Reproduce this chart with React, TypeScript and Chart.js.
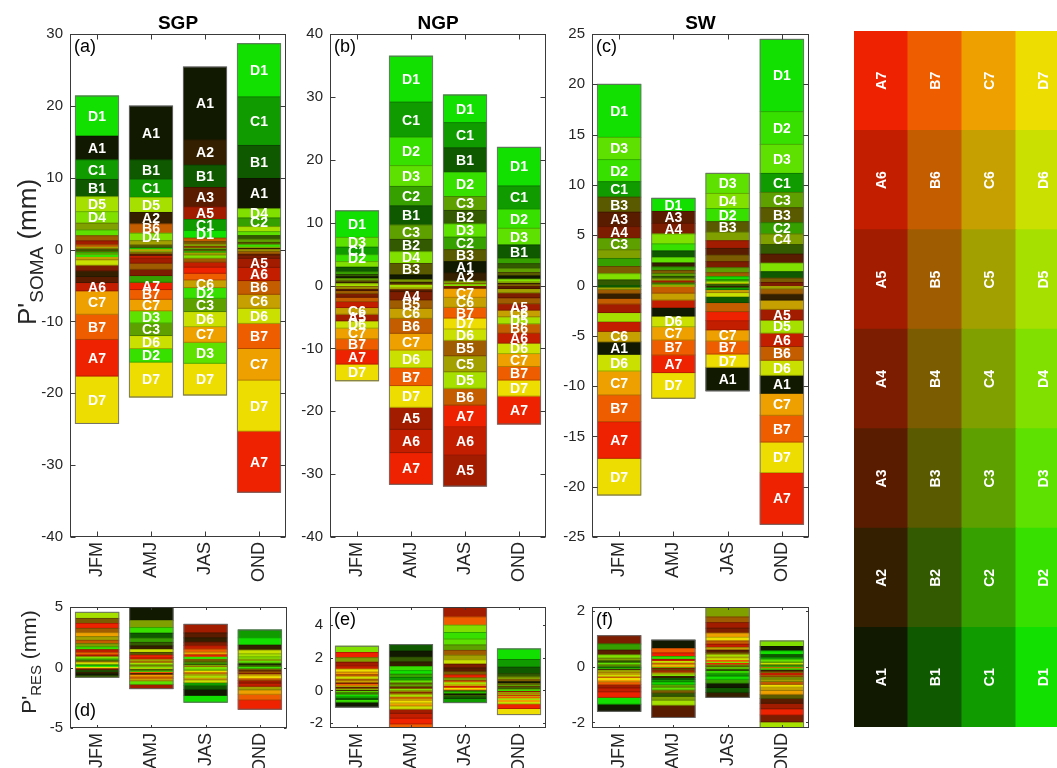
import React, { useEffect, useRef } from 'react';
import { Chart, registerables } from 'chart.js';
Chart.register(...registerables);

const FONT = '"Liberation Sans", Arial, Helvetica, sans-serif';
const INK = '#262626';

const SEASONS = ['JFM', 'AMJ', 'JAS', 'OND'];
const GROUPS = ['A', 'B', 'C', 'D'];
const LEVELS = ['1', '2', '3', '4', '5', '6', '7'];
const CATEGORIES = GROUPS.flatMap((g) => LEVELS.map((l) => g + l));

const COLORS_A = ['#111a00', '#342000', '#5a1c00', '#7c1c00', '#a21c00', '#c41e00', '#ee2200'];
const COLORS_B = ['#0f5a00', '#335a00', '#5a5a00', '#7c5c00', '#a05c00', '#c45c00', '#ee5e00'];
const COLORS_C = ['#109c00', '#36a000', '#5ea000', '#80a000', '#a2a000', '#c6a000', '#eea000'];
const COLORS_D = ['#12e000', '#38e000', '#5ee000', '#82e000', '#a6e000', '#cae000', '#eedd00'];
const CATEGORY_COLORS = [...COLORS_A, ...COLORS_B, ...COLORS_C, ...COLORS_D];

// rows: A1..A7, B1..B7, C1..C7, D1..D7 ; columns: JFM, AMJ, JAS, OND  (mm)
const SGP_SOMA: number[][] = [
  [3.3, 7.5, 10.15, 4.2],
  [-0.8, 1.6, 3.5, 0.15],
  [-0.85, -0.3, 2.7, -0.3],
  [-0.78, -0.88, 0.2, -0.4],
  [0.55, -0.7, 1.75, -1.25],
  [-1.15, -0.35, -0.7, -1.85],
  [-5.1, -1.02, -0.85, -8.5],
  [2.4, 2.7, 3.1, 4.6],
  [-0.1, 0.2, 0.08, 0.5],
  [-0.15, 0.3, -0.15, 0.35],
  [0.12, -0.25, 0.4, -0.17],
  [0.7, -0.85, -0.55, -0.25],
  [0.35, 1.3, 0.5, -1.9],
  [-3.5, -1.35, -0.93, -3.5],
  [2.7, 2.5, 1.55, 6.75],
  [-0.17, -0.92, -0.25, 1.2],
  [-0.25, -1.75, -1.86, 0.45],
  [0.95, -0.2, 0.3, 0.2],
  [0.2, 0.6, -0.35, -0.1],
  [-0.45, -0.1, -1.07, -1.95],
  [-3.25, -1.6, -2.17, -4.4],
  [5.6, 0.14, 1.05, 7.4],
  [-0.3, -1.9, -1.48, 0.3],
  [0.8, -1.7, -2.93, 0.55],
  [1.6, 1.03, -0.45, 1.3],
  [2.1, 2.1, 0.12, 0.7],
  [-0.75, -1.8, -2.09, -2.1],
  [-6.6, -4.85, -4.41, -7.1],
];

const NGP_SOMA: number[][] = [
  [0.32, 0.75, 1.8, 0.5],
  [0.2, 0.3, 1.3, 0.2],
  [-0.35, -0.45, -0.25, -0.5],
  [-0.6, -1.32, -0.2, -0.8],
  [-1.06, -3.5, -4.93, -1.02],
  [-0.95, -3.72, -4.5, -1.6],
  [-2.27, -5.03, -3.45, -4.45],
  [0.7, 3.05, 3.9, 2.12],
  [0.35, 1.97, 2.15, 0.75],
  [0.25, 1.84, 1.9, 0.55],
  [-0.2, 0.22, 0.2, 0.12],
  [-0.45, -1.33, -2.45, -0.95],
  [-0.7, -2.38, -2.68, -1.5],
  [-1.75, -2.86, -1.7, -2.15],
  [1.2, 5.6, 4.0, 3.71],
  [0.45, 3.1, 2.0, 0.85],
  [0.3, 2.27, 2.2, 0.65],
  [0.18, 0.4, 0.35, 0.3],
  [-0.27, -0.33, -2.55, -0.65],
  [-1.05, -1.59, -1.59, -1.06],
  [-1.7, -2.66, -1.43, -2.05],
  [4.23, 7.3, 4.4, 6.15],
  [1.1, 4.5, 3.85, 3.02],
  [1.55, 3.3, 2.1, 2.66],
  [0.9, 1.87, 0.15, 0.4],
  [0.15, -0.2, -2.62, -1.1],
  [-1.15, -2.81, -1.8, -1.65],
  [-2.65, -3.44, -1.75, -2.55],
];

const SW_SOMA: number[][] = [
  [-1.25, -0.83, -2.33, -1.78],
  [-0.49, 0.4, -0.16, -0.6],
  [1.43, 1.2, 0.68, 0.9],
  [1.16, 1.05, 0.6, 0.3],
  [-0.86, 0.17, 0.75, -1.06],
  [-0.97, -0.76, -0.92, -1.33],
  [-3.64, -1.76, -0.9, -5.14],
  [-0.15, 0.65, -0.6, 0.65],
  [0.55, 0.25, 0.1, 0.95],
  [1.51, 0.15, 1.05, 1.49],
  [0.72, 0.3, 0.65, 0.42],
  [-0.38, -0.07, 0.4, -0.5],
  [-0.57, -0.64, -0.89, -1.37],
  [-2.66, -1.49, -1.29, -2.66],
  [1.53, 0.09, -0.25, 1.89],
  [0.8, 0.35, 0.22, 1.12],
  [1.15, 0.28, 0.5, 1.53],
  [0.85, 0.2, 0.85, 1.05],
  [-0.25, 0.05, 0.1, -0.34],
  [-1.02, -0.68, -0.3, -0.93],
  [-2.38, -1.32, -1.1, -2.19],
  [5.27, 1.3, 0.3, 7.19],
  [2.19, 0.7, 1.3, 3.25],
  [2.22, 0.55, 2.0, 2.88],
  [0.62, 0.98, 1.5, 0.85],
  [-0.9, -0.05, 0.15, -1.3],
  [-1.66, -1.07, -0.4, -1.5],
  [-3.65, -2.54, -1.32, -3.04],
];

const SGP_RES: number[][] = [
  [-0.17, 1.5, -0.5, 0.1],
  [-0.15, 0.28, 0.35, 0.42],
  [-0.1, -0.14, 0.4, -0.1],
  [-0.06, -0.08, 0.3, -0.13],
  [0.18, -0.35, 0.72, -0.23],
  [0.22, 0.18, 0.28, -0.26],
  [0.4, 0.2, 0.2, -0.77],
  [-0.12, 0.4, -0.32, 0.05],
  [-0.18, 0.3, 0.1, 0.12],
  [0.12, 0.22, 0.13, -0.05],
  [0.42, 0.08, 0.15, -0.07],
  [0.36, 0.14, 0.08, -0.11],
  [0.28, -0.18, -0.13, -0.2],
  [0.2, -0.12, 0.25, -0.47],
  [0.07, -0.07, -0.25, 0.65],
  [0.14, 0.35, 0.12, -0.04],
  [0.08, 0.1, -0.1, 0.08],
  [0.26, 0.6, 0.09, 0.18],
  [0.3, 0.16, -0.15, -0.3],
  [0.1, -0.2, -0.2, -0.15],
  [0.33, -0.15, 0.22, -0.36],
  [0.06, -0.1, -0.56, 0.6],
  [0.24, 0.47, 0.18, -0.03],
  [0.05, -0.3, -0.08, 0.15],
  [0.16, 0.05, -0.06, 0.2],
  [0.5, 0.12, -0.18, 0.25],
  [0.09, 0.25, -0.22, 0.3],
  [-0.03, -0.06, -0.12, -0.18],
];

const NGP_RES: number[][] = [
  [-0.3, 0.36, -0.08, 0.12],
  [0.02, 0.28, -0.03, 0.05],
  [0.07, 0.09, 0.22, 0.08],
  [0.1, -0.08, 0.24, -0.03],
  [0.22, -0.25, 0.8, -0.03],
  [0.2, -0.3, 0.1, -0.06],
  [0.32, -0.35, 0.18, -0.28],
  [-0.13, 0.4, -0.15, 0.4],
  [-0.06, 0.3, -0.1, 0.2],
  [-0.02, 0.13, -0.02, 0.1],
  [0.06, 0.07, 0.2, 0.13],
  [0.12, -0.05, 0.3, -0.03],
  [0.14, -0.12, 0.14, -0.05],
  [0.09, -0.45, 0.5, -0.08],
  [-0.1, 0.18, -0.25, 0.47],
  [-0.08, 0.2, -0.07, 0.06],
  [-0.05, 0.11, 0.33, 0.09],
  [0.28, -0.04, 0.16, 0.15],
  [0.08, -0.09, 0.28, -0.05],
  [0.11, -0.13, 0.11, -0.07],
  [0.16, -0.18, 0.06, -0.12],
  [-0.09, 0.22, -0.05, 0.65],
  [-0.15, 0.25, 0.4, -0.02],
  [-0.04, 0.15, 0.36, 0.04],
  [0.38, 0.06, 0.45, -0.04],
  [0.04, -0.11, 0.12, -0.1],
  [0.13, -0.2, 0.26, -0.15],
  [0.18, -0.15, 0.08, -0.37],
];

const SW_RES: number[][] = [
  [-0.26, 0.3, -0.16, 0.16],
  [-0.03, -0.07, -0.18, -0.06],
  [0.17, -0.44, 0.09, -0.17],
  [0.3, -0.04, 0.18, -0.25],
  [-0.12, -0.05, 0.2, -0.2],
  [-0.14, 0.08, 0.11, -0.07],
  [-0.2, 0.13, 0.05, -0.22],
  [-0.02, -0.07, -0.17, 0.1],
  [0.08, -0.12, -0.08, 0.04],
  [0.04, -0.04, 0.03, -0.15],
  [-0.03, -0.11, 0.08, -0.06],
  [-0.04, -0.05, 0.2, -0.08],
  [-0.06, 0.05, 0.12, -0.1],
  [-0.1, 0.16, 0.06, -0.04],
  [-0.02, -0.08, -0.1, 0.09],
  [0.22, -0.03, -0.14, 0.03],
  [0.03, -0.1, 0.04, 0.06],
  [0.1, -0.14, 0.45, -0.08],
  [-0.04, -0.05, 0.07, -0.09],
  [-0.05, 0.04, 0.1, -0.12],
  [-0.08, 0.02, 0.15, -0.14],
  [-0.24, -0.09, -0.12, 0.13],
  [-0.02, 0.1, -0.09, -0.05],
  [0.06, -0.1, -0.06, 0.07],
  [0.12, -0.06, 0.05, 0.2],
  [-0.03, -0.18, 0.07, -0.35],
  [-0.05, 0.06, 0.06, 0.05],
  [-0.07, 0.02, 0.13, -0.1],
];

const TICKS_SGP = [-40, -30, -20, -10, 0, 10, 20, 30];
const TICKS_NGP = [-40, -30, -20, -10, 0, 10, 20, 30, 40];
const TICKS_SW = [-25, -20, -15, -10, -5, 0, 5, 10, 15, 20, 25];
const TICKS_SGP_RES = [-5, 0, 5];
const TICKS_NGP_RES = [-2, 0, 2, 4];
const TICKS_SW_RES = [-2, 0, 2];

const LABEL_MIN = 1.0;

type YTitle = { sub: string; center: number; big: number; small: number };

type Panel = {
  title?: string;
  table: number[][];
  min: number;
  max: number;
  ticks: number[];
  box: [number, number, number, number];
  letter: string;
  letterAtBottom?: boolean;
  yTitle?: YTitle;
  showNames: boolean;
  tickLen: number;
};

const PANELS: Panel[] = [
  { title: 'SGP', table: SGP_SOMA, min: -40, max: 30, ticks: TICKS_SGP, box: [70, 34, 286, 537], letter: '(a)', yTitle: { sub: 'SOMA', center: 252, big: 26, small: 19 }, showNames: true, tickLen: 5 },
  { title: 'NGP', table: NGP_SOMA, min: -40, max: 40, ticks: TICKS_NGP, box: [330, 34, 546, 537], letter: '(b)', showNames: true, tickLen: 5 },
  { title: 'SW', table: SW_SOMA, min: -25, max: 25, ticks: TICKS_SW, box: [592, 34, 809, 537], letter: '(c)', showNames: true, tickLen: 5 },
  { table: SGP_RES, min: -5, max: 5, ticks: TICKS_SGP_RES, box: [70, 607, 287, 728], letter: '(d)', letterAtBottom: true, yTitle: { sub: 'RES', center: 662, big: 21, small: 15 }, showNames: false, tickLen: 2.5 },
  { table: NGP_RES, min: -2.3, max: 5.1, ticks: TICKS_NGP_RES, box: [330, 607, 546, 728], letter: '(e)', showNames: false, tickLen: 2.5 },
  { table: SW_RES, min: -2.2, max: 2.15, ticks: TICKS_SW_RES, box: [592, 607, 809, 728], letter: '(f)', showNames: false, tickLen: 2.5 },
];

const PAD_L = 70;
const PAD_T = 34;
const PAD_R = 6;
const PAD_B = 60;

function canvasGeom(p: Panel) {
  const [L, T, R, B] = p.box;
  return { left: L - PAD_L, top: T - PAD_T, width: R - L + PAD_L + PAD_R, height: B - T + PAD_T + PAD_B };
}

function buildDatasets(table: number[][]) {
  const orders = SEASONS.map((_, b) =>
    table.map((_, i) => i).sort((i, j) => Math.abs(table[i][b]) - Math.abs(table[j][b]))
  );
  return table.map((_, r) => ({
    label: 'rank ' + (r + 1),
    data: orders.map((ord, b) => table[ord[r]][b]),
    backgroundColor: orders.map((ord) => CATEGORY_COLORS[ord[r]]),
    names: orders.map((ord) => CATEGORIES[ord[r]]),
    borderWidth: 0,
    inflateAmount: 0.4,
    barPercentage: 0.8,
    categoryPercentage: 1,
  }));
}

function makePanel(canvas: HTMLCanvasElement, p: Panel) {
  const geom = canvasGeom(p);
  const datasets = buildDatasets(p.table);

  const overlay = {
    id: 'overlay',
    afterDatasetsDraw(chart: any) {
      const ctx: CanvasRenderingContext2D = chart.ctx;
      const ca = chart.chartArea;
      const ys = chart.scales.y;
      ctx.save();
      ctx.beginPath();
      ctx.rect(ca.left, ca.top, ca.right - ca.left, ca.bottom - ca.top);
      ctx.clip();
      ctx.strokeStyle = 'rgba(0,0,0,0.35)';
      ctx.lineWidth = 0.7;
      ctx.beginPath();
      chart.data.datasets.forEach((ds: any, r: number) => {
        chart.getDatasetMeta(r).data.forEach((el: any) => {
          if (Math.abs(el.y - el.base) < 2.2) return;
          ctx.moveTo(el.x - el.width / 2, el.y);
          ctx.lineTo(el.x + el.width / 2, el.y);
        });
      });
      ctx.stroke();
      const meta0 = chart.getDatasetMeta(0);
      SEASONS.forEach((_, b) => {
        let pos = 0;
        let neg = 0;
        p.table.forEach((row) => {
          if (row[b] > 0) pos += row[b];
          else neg += row[b];
        });
        const el = meta0.data[b];
        const w = el.width;
        const top = ys.getPixelForValue(pos);
        const bot = ys.getPixelForValue(neg);
        ctx.strokeStyle = 'rgba(110,110,110,0.9)';
        ctx.lineWidth = 1;
        ctx.strokeRect(el.x - w / 2, top, w, bot - top);
      });
      if (p.showNames) {
        ctx.font = `bold 14px ${FONT}`;
        ctx.fillStyle = '#ffffff';
        ctx.textAlign = 'center';
        ctx.textBaseline = 'middle';
        chart.data.datasets.forEach((ds: any, r: number) => {
          const meta = chart.getDatasetMeta(r);
          meta.data.forEach((el: any, b: number) => {
            const v = ds.data[b];
            if (Math.abs(v) < LABEL_MIN) return;
            const cy = (el.y + el.base) / 2;
            ctx.fillText(ds.names[b], el.x, cy + 1);
          });
        });
      }
      ctx.restore();
    },
    afterDraw(chart: any) {
      const ctx: CanvasRenderingContext2D = chart.ctx;
      const ca = chart.chartArea;
      const xs = chart.scales.x;
      const ys = chart.scales.y;
      ctx.save();
      ctx.strokeStyle = '#3a3a3a';
      ctx.lineWidth = 1;
      const l = Math.round(ca.left) + 0.5;
      const r = Math.round(ca.right) - 0.5;
      const t = Math.round(ca.top) + 0.5;
      const bt = Math.round(ca.bottom) - 0.5;
      ctx.strokeRect(l, t, r - l, bt - t);
      ctx.beginPath();
      p.ticks.forEach((v) => {
        const y = Math.round(ys.getPixelForValue(v)) + 0.5;
        ctx.moveTo(l, y);
        ctx.lineTo(l + p.tickLen, y);
        ctx.moveTo(r, y);
        ctx.lineTo(r - p.tickLen, y);
      });
      SEASONS.forEach((_, i) => {
        const x = Math.round(xs.getPixelForValue(i)) + 0.5;
        ctx.moveTo(x, bt);
        ctx.lineTo(x, bt - p.tickLen);
        ctx.moveTo(x, t);
        ctx.lineTo(x, t + p.tickLen);
      });
      ctx.stroke();

      ctx.fillStyle = '#000';
      ctx.font = `18px ${FONT}`;
      ctx.textAlign = 'left';
      if (p.letterAtBottom) {
        ctx.textBaseline = 'alphabetic';
        ctx.fillText(p.letter, ca.left + 4, ca.bottom - 12);
      } else {
        ctx.textBaseline = 'top';
        ctx.fillText(p.letter, ca.left + 4, ca.top + 4);
      }

      if (p.title) {
        ctx.font = `bold 19px ${FONT}`;
        ctx.textAlign = 'center';
        ctx.textBaseline = 'alphabetic';
        ctx.fillStyle = '#000';
        ctx.fillText(p.title, (ca.left + ca.right) / 2, 29 - geom.top);
      }

      if (p.yTitle) {
        const yt = p.yTitle;
        const big = `${yt.big}px ${FONT}`;
        const small = `${yt.small}px ${FONT}`;
        ctx.font = big;
        const w1 = ctx.measureText("P'").width;
        const w3 = ctx.measureText(' (mm)').width;
        ctx.font = small;
        const w2 = ctx.measureText(yt.sub).width;
        const total = w1 + w2 + w3;
        ctx.translate(36 - geom.left, yt.center - geom.top);
        ctx.rotate(-Math.PI / 2);
        ctx.fillStyle = INK;
        ctx.textAlign = 'left';
        ctx.textBaseline = 'alphabetic';
        let x0 = -total / 2;
        ctx.font = big;
        ctx.fillText("P'", x0, 0);
        x0 += w1;
        ctx.font = small;
        ctx.fillText(yt.sub, x0, Math.round(yt.big * 0.25));
        x0 += w2;
        ctx.font = big;
        ctx.fillText(' (mm)', x0, 0);
      }
      ctx.restore();
    },
  };

  return new Chart(canvas, {
    type: 'bar',
    data: { labels: SEASONS, datasets: datasets as any },
    options: {
      animation: false,
      responsive: false,
      maintainAspectRatio: false,
      events: [],
      layout: { padding: { left: PAD_L - 45, top: PAD_T, right: PAD_R, bottom: 10 } },
      plugins: { legend: { display: false }, tooltip: { enabled: false }, title: { display: false } },
      scales: {
        x: {
          stacked: true,
          grid: { display: false, drawTicks: false },
          border: { display: false },
          ticks: {
            autoSkip: false,
            minRotation: 90,
            maxRotation: 90,
            padding: 5,
            color: INK,
            font: { size: 18, family: FONT },
          },
          afterFit: (s: any) => {
            s.height = PAD_B - 10;
          },
        },
        y: {
          stacked: true,
          min: p.min,
          max: p.max,
          grid: { display: false, drawTicks: false },
          border: { display: false },
          ticks: {
            padding: 7,
            color: INK,
            font: { size: 15, family: FONT },
            callback: (v: any) => String(v),
          },
          afterBuildTicks: (s: any) => {
            s.ticks = p.ticks.map((v) => ({ value: v }));
          },
          afterFit: (s: any) => {
            s.width = 45;
          },
        },
      },
    },
    plugins: [overlay],
  });
}

const LEGEND_BOX = { left: 854, top: 31, width: 216, height: 696 };
const LEGEND_CELL = [1, 1, 1, 1];

function makeLegend(canvas: HTMLCanvasElement) {
  const datasets = LEVELS.map((lvl, li) => ({
    label: 'level ' + lvl,
    data: LEGEND_CELL,
    backgroundColor: GROUPS.map((_, gi) => CATEGORY_COLORS[gi * 7 + li]),
    names: GROUPS.map((g) => g + lvl),
    borderWidth: 0,
    inflateAmount: 0.5,
    barPercentage: 1,
    categoryPercentage: 1,
  }));
  const names = {
    id: 'legendNames',
    afterDatasetsDraw(chart: any) {
      const ctx: CanvasRenderingContext2D = chart.ctx;
      ctx.save();
      ctx.font = `bold 14px ${FONT}`;
      ctx.fillStyle = '#ffffff';
      ctx.textAlign = 'center';
      ctx.textBaseline = 'middle';
      chart.data.datasets.forEach((ds: any, r: number) => {
        chart.getDatasetMeta(r).data.forEach((el: any, b: number) => {
          ctx.save();
          ctx.translate(el.x, (el.y + el.base) / 2);
          ctx.rotate(-Math.PI / 2);
          ctx.fillText(ds.names[b], 0, 1);
          ctx.restore();
        });
      });
      ctx.restore();
    },
  };
  return new Chart(canvas, {
    type: 'bar',
    data: { labels: GROUPS, datasets: datasets as any },
    options: {
      animation: false,
      responsive: false,
      maintainAspectRatio: false,
      events: [],
      layout: { padding: 0 },
      plugins: { legend: { display: false }, tooltip: { enabled: false } },
      scales: {
        x: { stacked: true, display: false },
        y: { stacked: true, display: false, min: 0, max: 7 },
      },
    },
    plugins: [names],
  });
}

export default function App() {
  const refs = useRef<(HTMLCanvasElement | null)[]>([]);
  const legendRef = useRef<HTMLCanvasElement | null>(null);

  useEffect(() => {
    const charts: Chart[] = [];
    PANELS.forEach((p, i) => {
      const c = refs.current[i];
      if (c) charts.push(makePanel(c, p));
    });
    if (legendRef.current) charts.push(makeLegend(legendRef.current));
    return () => charts.forEach((c) => c.destroy());
  }, []);

  return (
    <div style={{ position: 'absolute', left: 0, top: 0, width: 1057, height: 768, overflow: 'hidden', background: '#fff' }}>
      {PANELS.map((p, i) => {
        const g = canvasGeom(p);
        return (
          <canvas
            key={i}
            ref={(el) => {
              refs.current[i] = el;
            }}
            width={g.width}
            height={g.height}
            style={{ position: 'absolute', left: g.left, top: g.top, width: g.width, height: g.height }}
          />
        );
      })}
      <canvas
        ref={legendRef}
        width={LEGEND_BOX.width}
        height={LEGEND_BOX.height}
        style={{ position: 'absolute', left: LEGEND_BOX.left, top: LEGEND_BOX.top, width: LEGEND_BOX.width, height: LEGEND_BOX.height }}
      />
    </div>
  );
}
